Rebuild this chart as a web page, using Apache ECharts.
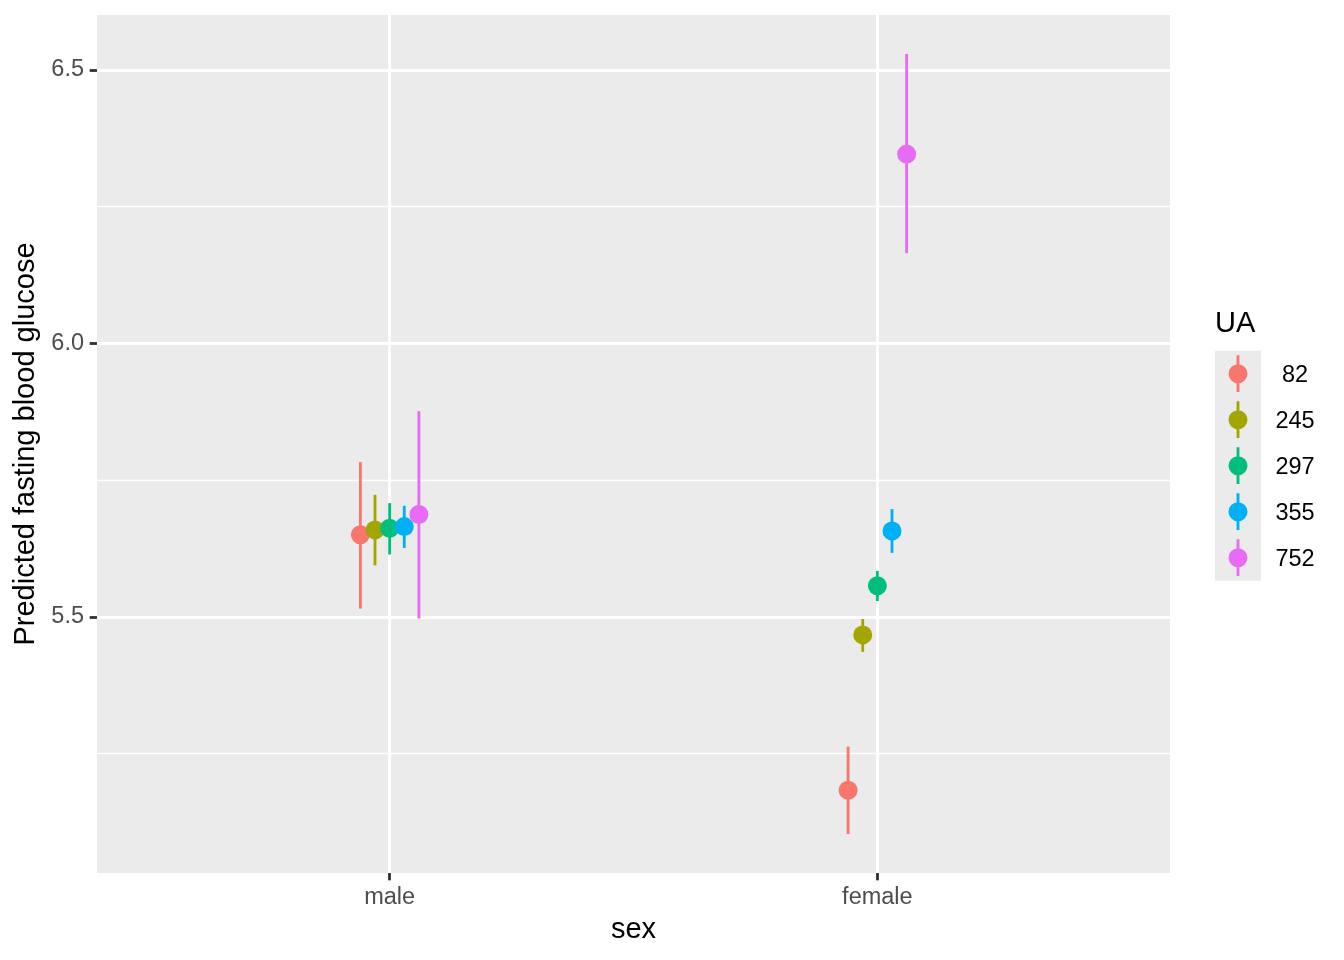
<!DOCTYPE html>
<html>
<head>
<meta charset="utf-8">
<script src="https://cdn.jsdelivr.net/npm/echarts@6/dist/echarts.min.js"></script>
<style>
  html, body { margin: 0; padding: 0; background: #fff; }
  #chart { width: 1344px; height: 960px; }
</style>
</head>
<body>
<div id="chart"></div>
<script>
// data
var sexes = ['male', 'female'];
var uaLevels = ['82', '245', '297', '355', '752'];
var uaColors = ['#F8766D', '#A3A500', '#00BF7D', '#00B0F6', '#E76BF3'];

var fitMale = [5.650, 5.659, 5.662, 5.665, 5.687];
var lowMale = [5.515, 5.594, 5.614, 5.626, 5.497];
var highMale = [5.783, 5.723, 5.708, 5.703, 5.876];

var fitFemale = [5.183, 5.467, 5.557, 5.657, 6.346];
var lowFemale = [5.103, 5.436, 5.529, 5.617, 6.165];
var highFemale = [5.263, 5.496, 5.584, 5.697, 6.529];

var yMajor = [5.5, 6.0, 6.5];
var yMinor = [5.25, 5.75, 6.25];

var FONT = '"Liberation Sans", Arial, Helvetica, sans-serif';
var dodge = 0.03;

var chart = echarts.init(document.getElementById('chart'));

// point + range drawn in one go
var renderRange = function (color) {
    return function (params, api) {
        var x = api.value(0);
        var p = api.coord([x, api.value(1)]);
        var lo = api.coord([x, api.value(2)]);
        var hi = api.coord([x, api.value(3)]);
        return {
            type: 'group',
            children: [
                {
                    type: 'line',
                    shape: { x1: p[0], y1: lo[1], x2: p[0], y2: hi[1] },
                    style: { stroke: color, lineWidth: 2.84 }
                },
                {
                    type: 'circle',
                    shape: { cx: p[0], cy: p[1], r: 9.5 },
                    style: { fill: color }
                }
            ]
        };
    };
};

var gridLines = [];
yMinor.forEach(function (v) {
    gridLines.push({ yAxis: v, lineStyle: { width: 1.42 } });
});
yMajor.forEach(function (v) {
    gridLines.push({ yAxis: v, lineStyle: { width: 2.84 } });
});
sexes.forEach(function (s, i) {
    gridLines.push({ xAxis: i + 1, lineStyle: { width: 2.84 } });
});

var keyIcon = 'path://M21.58,4.6h2.84v36.8h-2.84Z' +
    'M13.5,23a9.5,9.5 0 1,1 19,0a9.5,9.5 0 1,1 -19,0Z';

var series = [];
uaLevels.forEach(function (ua, i) {
    var off = (i - 2) * dodge;
    var s = {
        name: ua,
        type: 'custom',
        z: 3,
        color: uaColors[i],
        renderItem: renderRange(uaColors[i]),
        encode: { x: 0, y: 1 },
        data: [
            [1 + off, fitMale[i], lowMale[i], highMale[i]],
            [2 + off, fitFemale[i], lowFemale[i], highFemale[i]]
        ]
    };
    if (i === 0) {
        s.markLine = {
            silent: true,
            z: 1,
            symbol: ['none', 'none'],
            label: { show: false },
            lineStyle: { color: '#ffffff', type: 'solid' },
            data: gridLines
        };
    }
    series.push(s);
});

var options = {
    animation: false,
    backgroundColor: '#ffffff',
    textStyle: { fontFamily: FONT },
    title: {
        text: 'UA',
        left: 1215,
        top: 309,
        padding: 0,
        textStyle: { fontFamily: FONT, fontSize: 29, fontWeight: 'normal', color: '#000' }
    },
    graphic: [
        {
            type: 'rect',
            left: 1215,
            top: 350.7,
            shape: { width: 46, height: 230 },
            style: { fill: '#EBEBEB' },
            z: -1
        }
    ],
    legend: {
        orient: 'vertical',
        left: 1228.5,
        top: 355.3,
        padding: 0,
        itemWidth: 19,
        itemHeight: 36.8,
        itemGap: 9.2,
        data: uaLevels.map(function (ua) { return { name: ua, icon: keyIcon }; }),
        formatter: '{a|{name}}',
        textStyle: {
            fontFamily: FONT,
            fontSize: 23.5,
            color: '#000',
            rich: {
                a: { width: 85, align: 'center', fontSize: 23.5, fontFamily: FONT, padding: [4, 0, 0, 0] }
            }
        },
        selectedMode: false
    },
    grid: {
        left: 97,
        right: 174,
        top: 15,
        bottom: 87,
        show: true,
        backgroundColor: '#EBEBEB',
        borderWidth: 0
    },
    xAxis: {
        type: 'value',
        min: 0.4,
        max: 2.6,
        name: 'sex',
        nameLocation: 'middle',
        nameGap: 42,
        nameTextStyle: { fontFamily: FONT, fontSize: 29, color: '#000' },
        axisLine: { show: false },
        axisTick: {
            show: true,
            customValues: [1, 2],
            length: 7.33,
            lineStyle: { color: '#333333', width: 2.84 }
        },
        axisLabel: {
            customValues: [1, 2],
            margin: 13,
            fontFamily: FONT,
            fontSize: 23.5,
            color: '#4D4D4D',
            formatter: function (v) { return sexes[Math.round(v) - 1]; }
        },
        splitLine: { show: false }
    },
    yAxis: {
        type: 'value',
        min: 5.0317,
        max: 6.6003,
        name: 'Predicted fasting blood glucose',
        nameLocation: 'middle',
        nameGap: 56,
        nameTextStyle: { fontFamily: FONT, fontSize: 29, color: '#000' },
        axisLine: { show: false },
        axisTick: {
            show: true,
            customValues: yMajor,
            length: 7.33,
            lineStyle: { color: '#333333', width: 2.84 }
        },
        axisLabel: {
            customValues: yMajor,
            margin: 13,
            fontFamily: FONT,
            fontSize: 23.5,
            color: '#4D4D4D',
            formatter: function (v) { return v.toFixed(1); }
        },
        splitLine: { show: false }
    },
    series: series
};

chart.setOption(options);
</script>
</body>
</html>
